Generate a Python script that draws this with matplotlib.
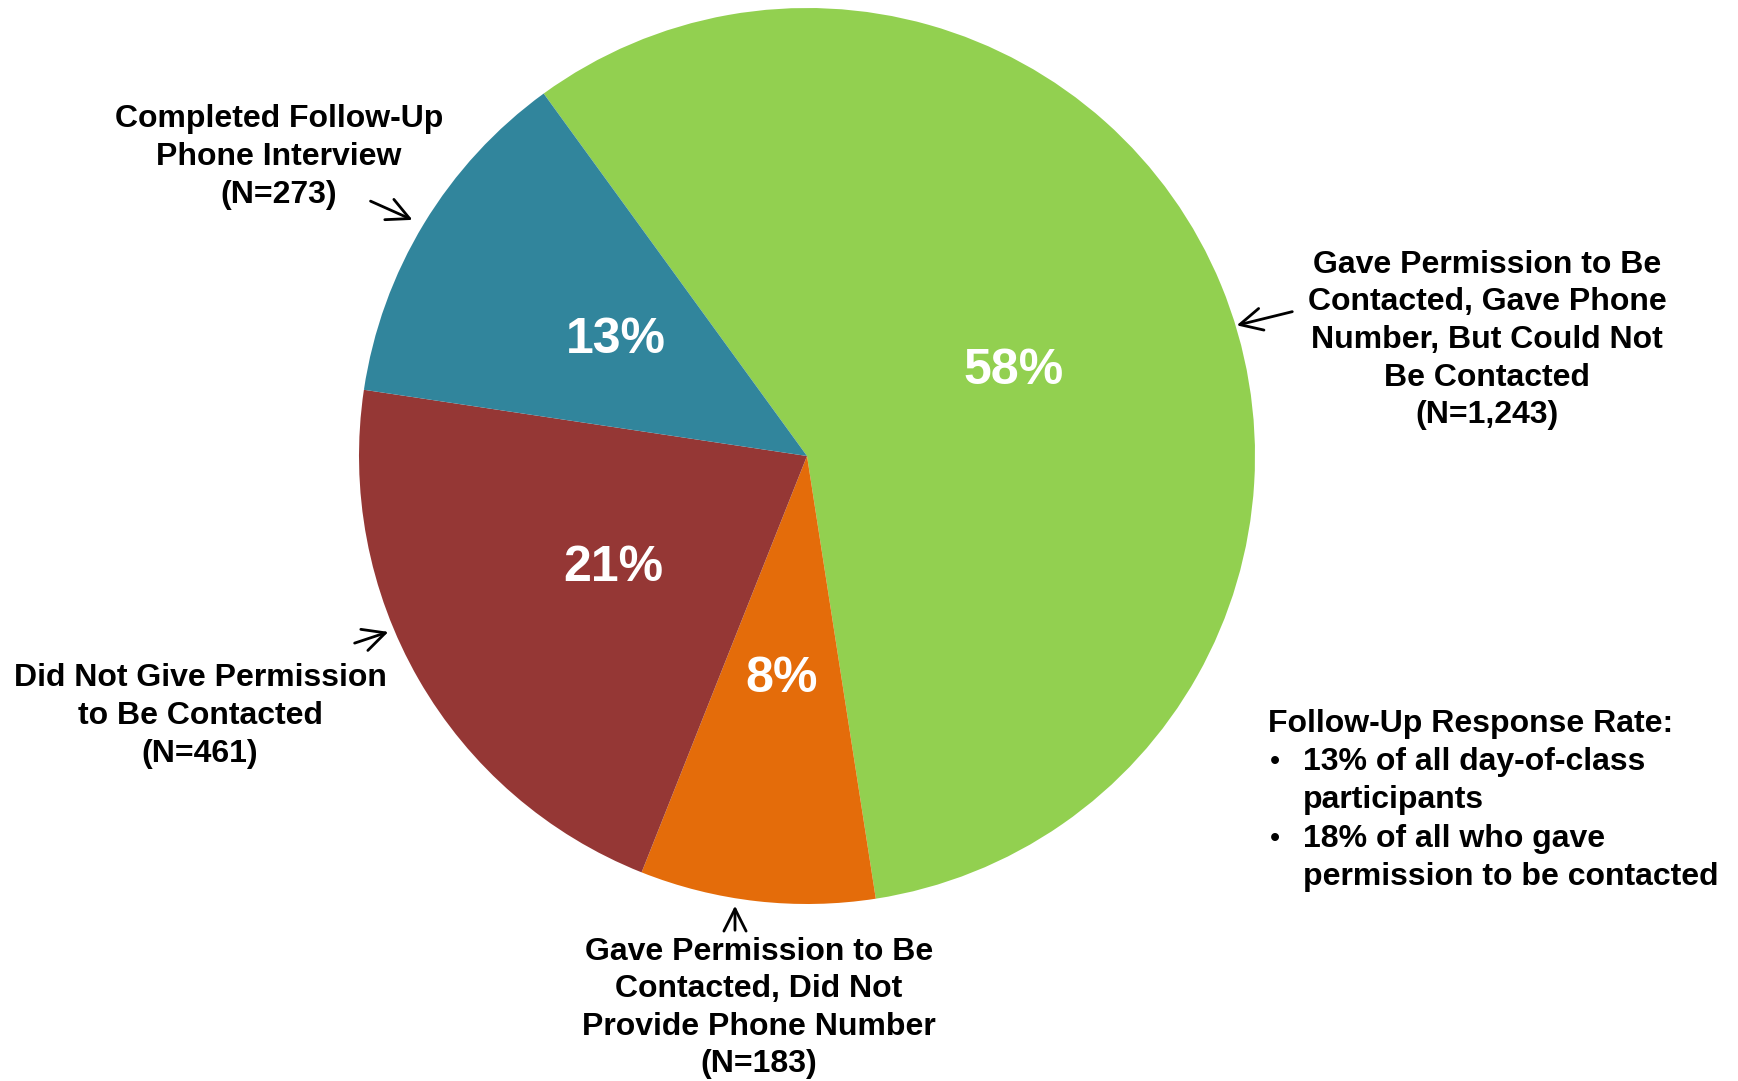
import matplotlib.pyplot as plt

plt.rcParams['font.family'] = ['Liberation Sans', 'DejaVu Sans']
plt.rcParams['font.weight'] = 'bold'

# follow-up outcome counts, in pie order (clockwise from the top left)
groups = ['Gave Permission to Be\nContacted, Gave Phone\nNumber, But Could Not\nBe Contacted',
          'Gave Permission to Be\nContacted, Did Not\nProvide Phone Number',
          'Did Not Give Permission\nto Be Contacted',
          'Completed Follow-Up\nPhone Interview']
counts = [1243, 183, 461, 273]
colors = ['#92D050', '#E46C0A', '#953735', '#31859C']

# where each outside label sits and where its arrow points (figure pixels, y up)
label_xy = [(1487, 741), (759, 73), (200, 365), (279, 924)]
arrow_from = [(1295, 770), (735, 148), (352, 437), (368, 881)]
arrow_to = [(1234, 755), (735, 178), (391, 450), (415, 860)]

fig = plt.figure(figsize=(17.38, 10.81), dpi=100)
ax = fig.add_axes([0, 0, 1, 1])

ax.pie(counts, colors=colors, startangle=126, counterclock=False,
       center=(807, 625), radius=448, pctdistance=0.5,
       autopct=lambda p: f'{p:.0f}%',
       textprops=dict(color='white', fontsize=36, fontweight='bold'),
       wedgeprops=dict(linewidth=0))

for name, n, txy, a0, a1 in zip(groups, counts, label_xy, arrow_from, arrow_to):
    ax.text(txy[0], txy[1], f'{name}\n(N={n:,})', ha='center', va='center',
            fontsize=23, fontweight='bold', linespacing=1.33)
    ax.annotate('', xy=a1, xytext=a0,
                arrowprops=dict(arrowstyle='->', color='black', lw=2,
                                mutation_scale=40))

# response rate note
ax.text(1268, 357, 'Follow-Up Response Rate:', ha='left', va='center',
        fontsize=23, fontweight='bold')
note_lines = [('•', '13% of all day-of-class'), ('', 'participants'),
              ('•', '18% of all who gave'), ('', 'permission to be contacted')]
for i, (bullet, line) in enumerate(note_lines):
    y = 319 - i * 38.3
    if bullet:
        ax.text(1270, y, bullet, ha='left', va='center', fontsize=21,
                fontweight='normal')
    ax.text(1303, y, line, ha='left', va='center', fontsize=23, fontweight='bold')

ax.set_xlim(0, 1738)
ax.set_ylim(0, 1081)
ax.axis('off')

fig.savefig('out.png', dpi=100)
